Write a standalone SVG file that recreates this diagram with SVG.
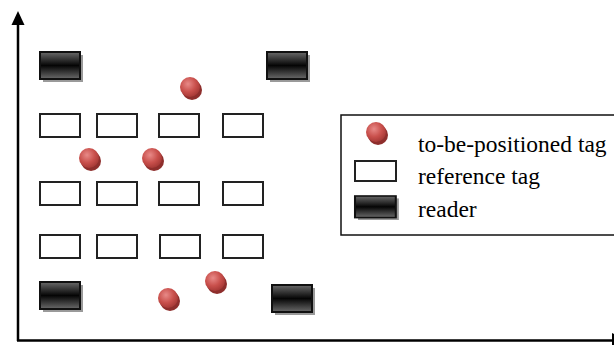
<svg xmlns="http://www.w3.org/2000/svg" width="614" height="345" viewBox="0 0 614 345">
<defs>
<linearGradient id="rd" x1="0" y1="0" x2="0" y2="1">
<stop offset="0" stop-color="#6a6a6a"/>
<stop offset="0.5" stop-color="#050505"/>
<stop offset="1" stop-color="#6a6a6a"/>
</linearGradient>
<radialGradient id="ball" cx="0.4" cy="0.35" r="0.65">
<stop offset="0" stop-color="#e88a88"/>
<stop offset="0.6" stop-color="#c9504c"/>
<stop offset="1" stop-color="#a83a37"/>
</radialGradient>
<g id="reader">
<rect x="3" y="3" width="40" height="27" fill="#9a9a9a"/>
<rect x="0" y="0" width="40" height="27" fill="url(#rd)" stroke="#111" stroke-width="2"/>
</g>
<g id="tag">
<circle cx="2" cy="3" r="10" fill="#8e2e2c"/>
<circle cx="0" cy="0" r="10" fill="url(#ball)"/>
</g>
</defs>
<style>
.ref{fill:#fff;stroke:#222;stroke-width:2}
.axis{stroke:#000;stroke-width:2.5;fill:none}
.lbl{font-family:"Liberation Serif","Times New Roman",serif;font-size:23.5px;fill:#000}
</style>
<g id="axes">
<line class="axis" x1="18" y1="341" x2="18" y2="22"/>
<polygon points="18,11 11.5,25 24.5,25" fill="#000"/>
<line class="axis" x1="17" y1="340.5" x2="612" y2="340.5"/>
<polygon points="612,333 626,340.5 612,348" fill="#000"/>
</g>
<g id="readers">
<use href="#reader" x="40" y="52"/>
<use href="#reader" x="267" y="52"/>
<use href="#reader" x="40" y="282"/>
<use href="#reader" x="272" y="285"/>
</g>
<g id="reference-tags">
<rect class="ref" x="40" y="114" width="40" height="23"/>
<rect class="ref" x="97" y="114" width="40" height="23"/>
<rect class="ref" x="159" y="114" width="40" height="23"/>
<rect class="ref" x="223" y="114" width="40" height="23"/>
<rect class="ref" x="40" y="182" width="40" height="23"/>
<rect class="ref" x="97" y="182" width="40" height="23"/>
<rect class="ref" x="159" y="182" width="40" height="23"/>
<rect class="ref" x="223" y="182" width="40" height="23"/>
<rect class="ref" x="40" y="235" width="40" height="23"/>
<rect class="ref" x="97" y="235" width="40" height="23"/>
<rect class="ref" x="160" y="235" width="40" height="23"/>
<rect class="ref" x="223" y="235" width="40" height="23"/>
</g>
<g id="unknown-tags">
<use href="#tag" x="190" y="87"/>
<use href="#tag" x="89" y="158"/>
<use href="#tag" x="152" y="158"/>
<use href="#tag" x="215" y="281"/>
<use href="#tag" x="168" y="298"/>
</g>
<g id="legend">
<rect x="341" y="115" width="290" height="120" fill="#fff" stroke="#111" stroke-width="1.5"/>
<use href="#tag" x="376" y="132"/>
<rect class="ref" x="355" y="161" width="41" height="20"/>
<g transform="translate(355,196) scale(1.02,0.8)"><use href="#reader"/></g>
<text class="lbl" x="418" y="152">to-be-positioned tag</text>
<text class="lbl" x="418" y="184">reference tag</text>
<text class="lbl" x="418" y="217">reader</text>
</g>
</svg>
